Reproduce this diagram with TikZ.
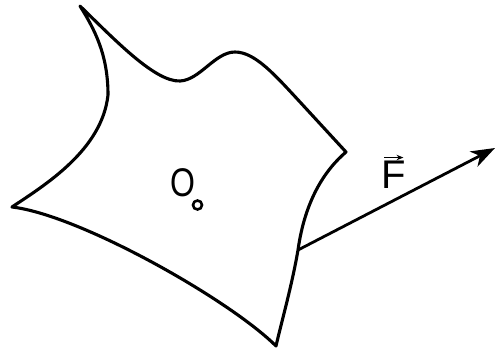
\documentclass[tikz,border=0pt]{standalone}
\usepackage{fontspec}
\setmainfont{Liberation Sans}
\usetikzlibrary{arrows.meta}
\begin{document}
\begin{tikzpicture}[x=1pt,y=-1pt,
  outline/.style={line width=3.1pt, line join=round},
  label/.style={inner sep=0pt, font=\fontsize{40}{40}\selectfont},
  force/.style={line width=2.8pt, -{Stealth[length=24pt,width=17pt,inset=7pt]}}]
\useasboundingbox (0,0) rectangle (495,349);
\coordinate (T) at (80,6);
\coordinate (D) at (180,81);
\coordinate (B) at (235,52);
\coordinate (R) at (346,152);
\coordinate (A) at (298,250);
\coordinate (Bt) at (276,346);
\coordinate (L) at (12,207);
\coordinate (I) at (108,95);
\coordinate (Fend) at (495,148);
\draw[outline] (T) .. controls (115,40) and (155,82) .. (D)
  .. controls (200,80) and (215,52) .. (B)
  .. controls (255,52) and (275,75) .. (300,102)
  -- (R)
  .. controls (325,170) and (305,200) .. (A)
  .. controls (292,285) and (282,320) .. (Bt)
  .. controls (230,300) and (80,215) .. (L)
  .. controls (45,185) and (102,150) .. (I)
  .. controls (108,55) and (95,30) .. cycle;
\node[label, xscale=0.8] (O) at (183,182.5) {O};
\node[circle, draw, line width=2.6pt, minimum size=9pt, inner sep=0pt] (o) at (197.5,205) {};
\draw[force] (A) -- (Fend);
\node[label] (F) at (393.5,175) {F};
\draw[line width=1.5pt, -{Stealth[length=7pt,width=5.5pt]}] ([xshift=-9.5pt,yshift=3.5pt]F.north) -- ([xshift=10pt,yshift=3.5pt]F.north);
\end{tikzpicture}
\end{document}
